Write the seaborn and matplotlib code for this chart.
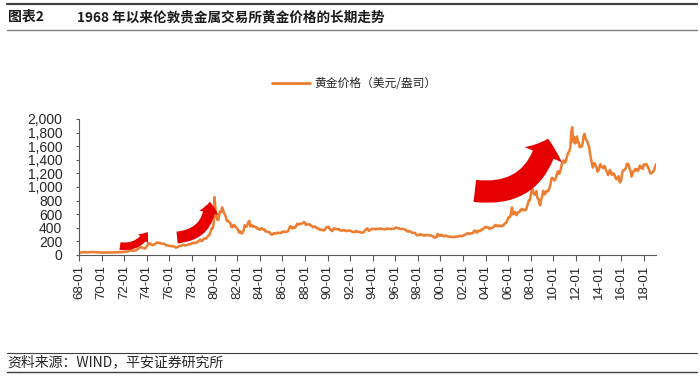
import numpy as np
import pandas as pd
import seaborn as sns
import matplotlib.dates as mdates
from matplotlib import pyplot as plt
from matplotlib.patches import FancyArrowPatch
from matplotlib.lines import Line2D
from matplotlib.ticker import FuncFormatter

## monthly gold price (USD/oz), 1968-01 .. 2019-02
gold_1968_1979 = [
    35.2, 35.2, 37.5, 38.0, 41.0, 41.1, 39.5, 39.2, 39.7, 39.3, 39.0, 41.0,
    42.3, 42.6, 43.3, 43.5, 43.5, 41.4, 42.0, 41.0, 40.8, 40.4, 37.4, 35.2,
    34.9, 35.0, 35.1, 35.9, 36.0, 35.4, 35.3, 35.4, 36.2, 37.5, 37.4, 37.4,
    37.9, 38.7, 38.9, 39.0, 40.5, 40.1, 41.0, 42.7, 42.0, 42.5, 42.9, 43.5,
    45.8, 48.3, 48.3, 49.0, 54.6, 62.1, 65.7, 67.0, 65.5, 64.9, 62.9, 63.9,
    65.1, 74.2, 84.4, 90.5, 102.0, 120.1, 120.2, 106.8, 103.0, 100.1, 94.8, 106.7,
    129.2, 150.2, 168.4, 172.2, 163.3, 154.1, 143.0, 154.6, 151.8, 158.8, 181.7, 183.9,
    176.3, 179.6, 178.2, 170.0, 167.0, 164.2, 165.2, 163.0, 144.1, 142.7, 142.2, 139.3,
    131.6, 131.0, 132.6, 128.1, 128.0, 125.8, 117.8, 109.0, 114.0, 116.0, 130.3, 133.6,
    132.3, 136.4, 148.2, 149.2, 146.7, 141.0, 143.3, 144.8, 149.4, 158.4, 162.2, 160.5,
    173.0, 178.2, 183.7, 175.1, 176.3, 183.6, 188.8, 206.1, 212.6, 227.3, 206.0, 207.8,
    227.3, 245.7, 242.1, 239.2, 257.6, 279.1, 294.7, 300.8, 355.1, 391.7, 391.8, 455.1,
]
gold_1980_1989 = [
    850, 665, 553, 517, 514, 600, 644, 627, 700, 661, 623, 595,
    558, 500, 499, 495, 480, 461, 409, 410, 444, 438, 413, 410,
    384, 374, 330, 350, 333, 314, 339, 364, 438, 422, 415, 444,
    490, 500, 420, 432, 438, 413, 422, 416, 411, 393, 382, 388,
    370, 386, 394, 381, 377, 378, 347, 348, 341, 340, 341, 320,
    303, 299, 304, 324, 316, 317, 317, 330, 323, 326, 325, 322,
    345, 339, 346, 340, 342, 343, 348, 376, 418, 423, 398, 391,
    408, 401, 408, 439, 460, 449, 451, 461, 460, 465, 467, 486,
    477, 442, 444, 452, 451, 452, 437, 431, 413, 407, 420, 419,
    404, 388, 390, 384, 371, 367, 375, 365, 361, 366, 394, 409,
]
gold_1990_1999 = [
    410, 417, 393, 374, 369, 352, 362, 395, 389, 381, 381, 378,
    384, 364, 363, 358, 357, 367, 368, 356, 349, 358, 360, 361,
    354, 354, 345, 338, 337, 341, 353, 340, 345, 344, 335, 334,
    329, 329, 330, 342, 367, 371, 392, 379, 355, 364, 373, 383,
    387, 382, 384, 377, 381, 385, 385, 380, 391, 389, 384, 379,
    378, 376, 382, 391, 385, 387, 386, 383, 383, 383, 386, 387,
    400, 405, 396, 393, 392, 385, 383, 387, 383, 381, 378, 369,
    355, 347, 352, 344, 344, 341, 324, 324, 323, 325, 306, 289,
    289, 297, 296, 308, 299, 292, 293, 284, 289, 296, 294, 291,
    287, 288, 286, 282, 277, 262, 256, 257, 265, 311, 293, 283,
]
gold_2000_2009 = [
    285, 300, 286, 280, 275, 286, 282, 275, 274, 270, 266, 272,
    266, 262, 263, 261, 272, 270, 268, 273, 283, 283, 276, 276,
    282, 296, 294, 302, 314, 321, 314, 310, 319, 317, 319, 333,
    357, 359, 340, 328, 355, 356, 351, 360, 379, 379, 389, 407,
    414, 405, 406, 404, 384, 392, 398, 400, 406, 420, 439, 442,
    424, 423, 434, 429, 422, 431, 424, 438, 456, 470, 476, 510,
    550, 555, 557, 610, 700, 596, 633, 632, 598, 585, 627, 629,
    631, 665, 655, 679, 667, 655, 665, 665, 712, 754, 806, 803,
    889, 940, 968, 909, 888, 889, 939, 839, 829, 760, 730, 816,
    858, 943, 924, 890, 928, 946, 934, 949, 996, 1043, 1127, 1135,
]
gold_2010_2019 = [
    1118, 1095, 1113, 1148, 1205, 1233, 1193, 1215, 1271, 1342, 1370, 1391,
    1356, 1372, 1424, 1473, 1510, 1529, 1572, 1800, 1880, 1665, 1738, 1640,
    1652, 1742, 1673, 1650, 1585, 1596, 1594, 1630, 1744, 1780, 1721, 1688,
    1671, 1627, 1593, 1485, 1414, 1343, 1286, 1347, 1349, 1316, 1275, 1225,
    1244, 1300, 1336, 1299, 1287, 1279, 1311, 1296, 1239, 1222, 1176, 1201,
    1251, 1227, 1179, 1198, 1199, 1181, 1131, 1117, 1125, 1159, 1086, 1068,
    1097, 1200, 1246, 1243, 1260, 1276, 1337, 1341, 1326, 1267, 1238, 1152,
    1192, 1234, 1231, 1267, 1246, 1260, 1236, 1283, 1315, 1280, 1282, 1265,
    1331, 1331, 1325, 1335, 1303, 1282, 1238, 1202, 1199, 1215, 1221, 1250,
    1291, 1335,
]

title_no = '图表2'
title_txt = '1968 年以来伦敦贵金属交易所黄金价格的长期走势'
series_name = '黄金价格（美元/盎司）'
source_txt = '资料来源：WIND，平安证券研究所'

LINE_C = '#ED7D31'
ARROW_C = '#E60000'
AX_C = '#595959'

gold = gold_1968_1979 + gold_1980_1989 + gold_1990_1999 + gold_2000_2009 + gold_2010_2019
dates = pd.date_range('1968-01-01', periods=len(gold), freq='MS')
df = pd.DataFrame({'date': dates, 'price': gold})

sns.set_style('white')
plt.rcParams['font.family'] = ['Liberation Sans', 'Noto Sans CJK SC', 'DejaVu Sans']
cjk = ['Noto Sans CJK SC', 'DejaVu Sans']

fig = plt.figure(figsize=(7, 3.78), dpi=100)
ax = fig.add_axes([79/700, 1-255/378, (656-79)/700, (255-119)/378])

sns.lineplot(data=df, x='date', y='price', ax=ax, color=LINE_C, linewidth=1.8, legend=False)

ax.set_xlim(dates[0], dates[-1])
ax.set_ylim(0, 2000)
ax.set_yticks(np.arange(0, 2001, 200))
ax.yaxis.set_major_formatter(FuncFormatter(lambda v, p: f'{int(v):,}'))
ax.xaxis.set_major_locator(mdates.YearLocator(2, month=1, day=1))
ax.xaxis.set_major_formatter(mdates.DateFormatter('%y-%m'))
ax.set_xlabel('')
ax.set_ylabel('')
for lab in ax.get_xticklabels():
    lab.set_rotation(90)

ax.tick_params(axis='x', direction='out', length=4, width=0.8, color=AX_C,
               labelsize=9.5, pad=3, bottom=True)
ax.tick_params(axis='y', direction='out', length=2, width=0.8, color=AX_C,
               labelsize=10, pad=10, left=True)
for s in ['top', 'right']:
    ax.spines[s].set_visible(False)
for s in ['left', 'bottom']:
    ax.spines[s].set_color(AX_C)
    ax.spines[s].set_linewidth(0.8)

# legend above the plot
h = Line2D([], [], color=LINE_C, linewidth=2)
ax.legend([h], [series_name], loc='center', bbox_to_anchor=(0.506, 0.78),
          bbox_transform=fig.transFigure, frameon=False, handlelength=3.2,
          handletextpad=0.4, prop={'family': cjk, 'size': 8.5})

# red curved arrows (axes fraction)
arrows = [
    ((0.071, 0.066), (0.119, 0.170), 0.35, 5.5, 9.5, 6.0),
    ((0.170, 0.129), (0.227, 0.392), 0.45, 8.5, 14.0, 8.0),
    ((0.686, 0.471), (0.813, 0.855), 0.45, 16.0, 29.0, 12.0),
]
for a, b, rad, tw, hw, hl in arrows:
    p = FancyArrowPatch(a, b, transform=ax.transAxes,
                        connectionstyle=f'arc3,rad={rad}',
                        arrowstyle=f'simple,tail_width={tw},head_width={hw},head_length={hl}',
                        mutation_scale=1, color=ARROW_C, linewidth=0, zorder=5,
                        shrinkA=0, shrinkB=0)
    ax.add_patch(p)

# header / footer
fig.add_artist(Line2D([0.01, 0.995], [1-4/378, 1-4/378], color='#404040', linewidth=1.6))
fig.add_artist(Line2D([0.01, 0.995], [1-30/378, 1-30/378], color='#7f7f7f', linewidth=1.0))
fig.text(8/700, 1-17/378, title_no, family=cjk, fontsize=10, fontweight='bold',
         va='center', ha='left', color='#1a1a1a')
fig.text(77/700, 1-17/378, title_txt, family=cjk, fontsize=9.8, fontweight='bold',
         va='center', ha='left', color='#1a1a1a')
fig.add_artist(Line2D([0.01, 0.995], [1-353/378, 1-353/378], color='#404040', linewidth=0.8))
fig.add_artist(Line2D([0.01, 0.995], [1-372/378, 1-372/378], color='#404040', linewidth=1.0))
fig.text(7/700, 1-362/378, source_txt, family=cjk, fontsize=10,
         va='center', ha='left', color='#262626', style='italic')

fig.savefig('out.png', dpi=100)
